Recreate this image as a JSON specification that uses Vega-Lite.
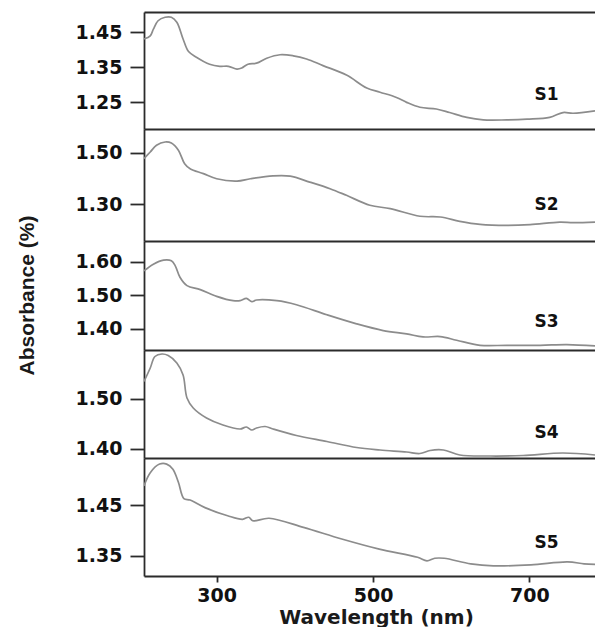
{
  "$schema": "https://vega.github.io/schema/vega-lite/v6.json",
  "padding": {"left": 16, "top": 12, "right": 0, "bottom": 0},
  "background": "white",
  "config": {
    "view": {"stroke": null},
    "font": "DejaVu Sans",
    "axis": {"grid": false, "domainColor": "#2b2b2b", "domainWidth": 1.8, "tickColor": "#2b2b2b", "tickWidth": 1.8, "labelFont": "DejaVu Sans", "labelFontWeight": "bold", "labelColor": "#111111"},
    "axisY": {"tickSize": 14, "labelPadding": 8, "labelFontSize": 19},
    "axisX": {"tickSize": 6, "labelPadding": 4, "labelFontSize": 19}
  },
  "datasets": {
    "S1": [
      {"wavelength":207,"absorbance":1.431},{"wavelength":215,"absorbance":1.440},{"wavelength":219,"absorbance":1.459},{"wavelength":225,"absorbance":1.483},{"wavelength":234,"absorbance":1.493},{"wavelength":242,"absorbance":1.493},{"wavelength":249,"absorbance":1.479},{"wavelength":257,"absorbance":1.431},{"wavelength":264,"absorbance":1.395},{"wavelength":274,"absorbance":1.379},{"wavelength":291,"absorbance":1.359},{"wavelength":304,"absorbance":1.353},{"wavelength":315,"absorbance":1.353},{"wavelength":326,"absorbance":1.345},{"wavelength":332,"absorbance":1.348},{"wavelength":340,"absorbance":1.359},{"wavelength":351,"absorbance":1.362},{"wavelength":364,"absorbance":1.376},{"wavelength":381,"absorbance":1.386},{"wavelength":398,"absorbance":1.383},{"wavelength":415,"absorbance":1.374},{"wavelength":436,"absorbance":1.355},{"wavelength":466,"absorbance":1.328},{"wavelength":492,"absorbance":1.291},{"wavelength":509,"absorbance":1.279},{"wavelength":530,"absorbance":1.264},{"wavelength":543,"absorbance":1.250},{"wavelength":560,"absorbance":1.236},{"wavelength":581,"absorbance":1.231},{"wavelength":598,"absorbance":1.221},{"wavelength":620,"absorbance":1.207},{"wavelength":641,"absorbance":1.200},{"wavelength":671,"absorbance":1.200},{"wavelength":697,"absorbance":1.202},{"wavelength":726,"absorbance":1.207},{"wavelength":743,"absorbance":1.221},{"wavelength":756,"absorbance":1.219},{"wavelength":784,"absorbance":1.226}
    ],
    "S2": [
      {"wavelength":207,"absorbance":1.478},{"wavelength":215,"absorbance":1.504},{"wavelength":223,"absorbance":1.530},{"wavelength":234,"absorbance":1.543},{"wavelength":242,"absorbance":1.539},{"wavelength":251,"absorbance":1.511},{"wavelength":259,"absorbance":1.458},{"wavelength":266,"absorbance":1.438},{"wavelength":283,"absorbance":1.419},{"wavelength":300,"absorbance":1.399},{"wavelength":326,"absorbance":1.390},{"wavelength":343,"absorbance":1.399},{"wavelength":372,"absorbance":1.410},{"wavelength":394,"absorbance":1.409},{"wavelength":419,"absorbance":1.386},{"wavelength":445,"absorbance":1.360},{"wavelength":466,"absorbance":1.334},{"wavelength":496,"absorbance":1.295},{"wavelength":522,"absorbance":1.282},{"wavelength":560,"absorbance":1.252},{"wavelength":586,"absorbance":1.249},{"wavelength":611,"absorbance":1.232},{"wavelength":637,"absorbance":1.220},{"wavelength":671,"absorbance":1.216},{"wavelength":701,"absorbance":1.219},{"wavelength":739,"absorbance":1.229},{"wavelength":756,"absorbance":1.227},{"wavelength":784,"absorbance":1.229}
    ],
    "S3": [
      {"wavelength":207,"absorbance":1.573},{"wavelength":219,"absorbance":1.593},{"wavelength":232,"absorbance":1.605},{"wavelength":242,"absorbance":1.603},{"wavelength":247,"absorbance":1.588},{"wavelength":253,"absorbance":1.554},{"wavelength":262,"absorbance":1.529},{"wavelength":279,"absorbance":1.517},{"wavelength":300,"absorbance":1.497},{"wavelength":321,"absorbance":1.484},{"wavelength":330,"absorbance":1.484},{"wavelength":338,"absorbance":1.491},{"wavelength":345,"absorbance":1.481},{"wavelength":351,"absorbance":1.486},{"wavelength":377,"absorbance":1.484},{"wavelength":402,"absorbance":1.472},{"wavelength":441,"absorbance":1.442},{"wavelength":479,"absorbance":1.415},{"wavelength":513,"absorbance":1.395},{"wavelength":543,"absorbance":1.385},{"wavelength":564,"absorbance":1.376},{"wavelength":586,"absorbance":1.377},{"wavelength":607,"absorbance":1.366},{"wavelength":637,"absorbance":1.351},{"wavelength":671,"absorbance":1.351},{"wavelength":714,"absorbance":1.351},{"wavelength":748,"absorbance":1.353},{"wavelength":784,"absorbance":1.349}
    ],
    "S4": [
      {"wavelength":207,"absorbance":1.534},{"wavelength":215,"absorbance":1.561},{"wavelength":221,"absorbance":1.584},{"wavelength":230,"absorbance":1.589},{"wavelength":238,"absorbance":1.586},{"wavelength":249,"absorbance":1.571},{"wavelength":257,"absorbance":1.547},{"wavelength":262,"absorbance":1.501},{"wavelength":270,"absorbance":1.481},{"wavelength":287,"absorbance":1.461},{"wavelength":308,"absorbance":1.447},{"wavelength":330,"absorbance":1.439},{"wavelength":338,"absorbance":1.443},{"wavelength":345,"absorbance":1.437},{"wavelength":351,"absorbance":1.441},{"wavelength":362,"absorbance":1.444},{"wavelength":372,"absorbance":1.439},{"wavelength":402,"absorbance":1.426},{"wavelength":441,"absorbance":1.414},{"wavelength":479,"absorbance":1.402},{"wavelength":509,"absorbance":1.397},{"wavelength":543,"absorbance":1.393},{"wavelength":560,"absorbance":1.390},{"wavelength":573,"absorbance":1.396},{"wavelength":590,"absorbance":1.397},{"wavelength":611,"absorbance":1.387},{"wavelength":650,"absorbance":1.385},{"wavelength":692,"absorbance":1.386},{"wavelength":743,"absorbance":1.391},{"wavelength":784,"absorbance":1.387}
    ],
    "S5": [
      {"wavelength":207,"absorbance":1.488},{"wavelength":215,"absorbance":1.514},{"wavelength":227,"absorbance":1.531},{"wavelength":236,"absorbance":1.531},{"wavelength":244,"absorbance":1.521},{"wavelength":251,"absorbance":1.495},{"wavelength":258,"absorbance":1.463},{"wavelength":266,"absorbance":1.460},{"wavelength":285,"absorbance":1.445},{"wavelength":314,"absorbance":1.429},{"wavelength":333,"absorbance":1.422},{"wavelength":341,"absorbance":1.426},{"wavelength":346,"absorbance":1.419},{"wavelength":367,"absorbance":1.424},{"wavelength":411,"absorbance":1.406},{"wavelength":460,"absorbance":1.383},{"wavelength":508,"absorbance":1.363},{"wavelength":557,"absorbance":1.347},{"wavelength":569,"absorbance":1.340},{"wavelength":579,"absorbance":1.345},{"wavelength":591,"absorbance":1.345},{"wavelength":625,"absorbance":1.334},{"wavelength":654,"absorbance":1.330},{"wavelength":702,"absorbance":1.332},{"wavelength":749,"absorbance":1.338},{"wavelength":770,"absorbance":1.334},{"wavelength":784,"absorbance":1.333}
    ]
  },
  "spacing": 0,
  "bounds": "flush",
  "vconcat": [
    {
      "width": 451, "height": 117,
      "layer": [
        {"data": {"name": "S1"}, "mark": {"type": "line", "color": "#8c8c8c", "strokeWidth": 1.7, "interpolate": "catmull-rom", "clip": true},
         "encoding": {
           "x": {"field": "wavelength", "type": "quantitative", "scale": {"domain": [207, 784], "nice": false, "zero": false}, "axis": {"orient": "top", "labels": false, "ticks": false, "title": null}},
           "y": {"field": "absorbance", "type": "quantitative", "scale": {"domain": [1.174, 1.508], "nice": false, "zero": false}, "axis": {"values": [1.25, 1.35, 1.45], "format": ".2f", "title": null}}}},
        {"data": {"values": [{"label": "S1"}]}, "mark": {"type": "text", "font": "DejaVu Sans", "fontWeight": "bold", "fontSize": 17, "color": "#111111"},
         "encoding": {"x": {"datum": 722, "type": "quantitative", "axis": {"orient": "top", "labels": false, "ticks": false, "title": null}}, "y": {"datum": 1.271, "type": "quantitative", "axis": {"values": [1.25, 1.35, 1.45], "format": ".2f", "title": null}}, "text": {"field": "label"}}}
      ]
    },
    {
      "width": 451, "height": 112,
      "layer": [
        {"data": {"name": "S2"}, "mark": {"type": "line", "color": "#8c8c8c", "strokeWidth": 1.7, "interpolate": "catmull-rom", "clip": true},
         "encoding": {
           "x": {"field": "wavelength", "type": "quantitative", "scale": {"domain": [207, 784], "nice": false, "zero": false}, "axis": {"orient": "top", "labels": false, "ticks": false, "title": null}},
           "y": {"field": "absorbance", "type": "quantitative", "scale": {"domain": [1.155, 1.594], "nice": false, "zero": false}, "axis": {"values": [1.30, 1.50], "format": ".2f", "title": null}}}},
        {"data": {"values": [{"label": "S2"}]}, "mark": {"type": "text", "font": "DejaVu Sans", "fontWeight": "bold", "fontSize": 17, "color": "#111111"},
         "encoding": {"x": {"datum": 722, "type": "quantitative", "axis": {"orient": "top", "labels": false, "ticks": false, "title": null}}, "y": {"datum": 1.296, "type": "quantitative", "axis": {"values": [1.30, 1.50], "format": ".2f", "title": null}}, "text": {"field": "label"}}}
      ]
    },
    {
      "width": 451, "height": 109,
      "layer": [
        {"data": {"name": "S3"}, "mark": {"type": "line", "color": "#8c8c8c", "strokeWidth": 1.7, "interpolate": "catmull-rom", "clip": true},
         "encoding": {
           "x": {"field": "wavelength", "type": "quantitative", "scale": {"domain": [207, 784], "nice": false, "zero": false}, "axis": {"orient": "top", "labels": false, "ticks": false, "title": null}},
           "y": {"field": "absorbance", "type": "quantitative", "scale": {"domain": [1.337, 1.662], "nice": false, "zero": false}, "axis": {"values": [1.40, 1.50, 1.60], "format": ".2f", "title": "Absorbance (%)", "titleFont": "Liberation Sans", "titleFontSize": 21, "titleFontWeight": "bold", "titleColor": "#1a1a1a", "titleX": -107, "titleY": 54}}}},
        {"data": {"values": [{"label": "S3"}]}, "mark": {"type": "text", "font": "DejaVu Sans", "fontWeight": "bold", "fontSize": 17, "color": "#111111"},
         "encoding": {"x": {"datum": 722, "type": "quantitative", "axis": {"orient": "top", "labels": false, "ticks": false, "title": null}}, "y": {"datum": 1.421, "type": "quantitative", "axis": {"values": [1.40, 1.50, 1.60], "format": ".2f", "title": "Absorbance (%)", "titleFont": "Liberation Sans", "titleFontSize": 21, "titleFontWeight": "bold", "titleColor": "#1a1a1a", "titleX": -107, "titleY": 54}}, "text": {"field": "label"}}}
      ]
    },
    {
      "width": 451, "height": 108,
      "layer": [
        {"data": {"name": "S4"}, "mark": {"type": "line", "color": "#8c8c8c", "strokeWidth": 1.7, "interpolate": "catmull-rom", "clip": true},
         "encoding": {
           "x": {"field": "wavelength", "type": "quantitative", "scale": {"domain": [207, 784], "nice": false, "zero": false}, "axis": {"orient": "top", "labels": false, "ticks": false, "title": null}},
           "y": {"field": "absorbance", "type": "quantitative", "scale": {"domain": [1.381, 1.597], "nice": false, "zero": false}, "axis": {"values": [1.40, 1.50], "format": ".2f", "title": null}}}},
        {"data": {"values": [{"label": "S4"}]}, "mark": {"type": "text", "font": "DejaVu Sans", "fontWeight": "bold", "fontSize": 17, "color": "#111111"},
         "encoding": {"x": {"datum": 722, "type": "quantitative", "axis": {"orient": "top", "labels": false, "ticks": false, "title": null}}, "y": {"datum": 1.432, "type": "quantitative", "axis": {"values": [1.40, 1.50], "format": ".2f", "title": null}}, "text": {"field": "label"}}}
      ]
    },
    {
      "width": 451, "height": 118,
      "resolve": {"axis": {"x": "independent"}},
      "layer": [
        {"data": {"name": "S5"}, "mark": {"type": "line", "color": "#8c8c8c", "strokeWidth": 1.7, "interpolate": "catmull-rom", "clip": true},
         "encoding": {
           "x": {"field": "wavelength", "type": "quantitative", "scale": {"domain": [207, 784], "nice": false, "zero": false}, "axis": {"orient": "top", "labels": false, "ticks": false, "title": null}},
           "y": {"field": "absorbance", "type": "quantitative", "scale": {"domain": [1.310, 1.543], "nice": false, "zero": false}, "axis": {"values": [1.35, 1.45], "format": ".2f", "title": null}}}},
        {"data": {"name": "S5"}, "mark": {"type": "line", "opacity": 0},
         "encoding": {
           "x": {"field": "wavelength", "type": "quantitative", "axis": {"orient": "bottom", "values": [300, 500, 700], "title": "Wavelength (nm)", "titleFont": "DejaVu Sans", "titleFontSize": 20, "titleFontWeight": "bold", "titleColor": "#1a1a1a", "titleX": 232, "titleY": 31}},
           "y": {"field": "absorbance", "type": "quantitative", "axis": {"values": [1.35, 1.45], "format": ".2f", "title": null}}}},
        {"data": {"values": [{"label": "S5"}]}, "mark": {"type": "text", "font": "DejaVu Sans", "fontWeight": "bold", "fontSize": 17, "color": "#111111"},
         "encoding": {"x": {"datum": 722, "type": "quantitative", "axis": null}, "y": {"datum": 1.375, "type": "quantitative", "axis": {"values": [1.35, 1.45], "format": ".2f", "title": null}}, "text": {"field": "label"}}}
      ]
    }
  ]
}
